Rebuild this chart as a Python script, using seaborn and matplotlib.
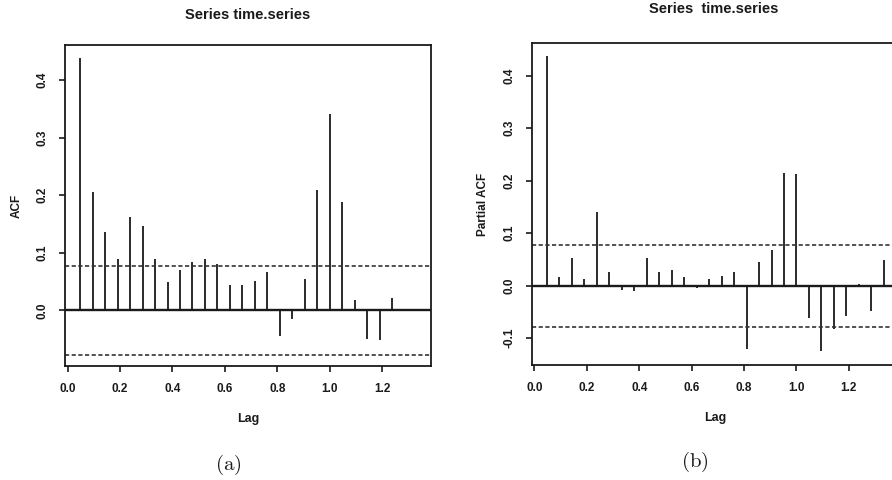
import numpy as np
import pandas as pd
import matplotlib
matplotlib.use("Agg")
import matplotlib.pyplot as plt
import seaborn as sns

# lags are k/21 (frequency 21)
freq = 21
acf_vals = [0.438, 0.205, 0.137, 0.089, 0.163, 0.147, 0.089, 0.050, 0.070, 0.084,
            0.090, 0.080, 0.045, 0.044, 0.052, 0.066, -0.044, -0.014, 0.054, 0.210,
            0.342, 0.189, 0.018, -0.049, -0.052, 0.021]
pacf_vals = [0.437, 0.017, 0.052, 0.012, 0.140, 0.027, -0.008, -0.011, 0.053, 0.027,
             0.030, 0.017, -0.005, 0.013, 0.019, 0.027, -0.121, 0.046, 0.068, 0.214,
             0.213, -0.062, -0.124, -0.083, -0.058, 0.003, -0.048, 0.049]
clim = 0.078
x_ticks = [0.0, 0.2, 0.4, 0.6, 0.8, 1.0, 1.2]
acf_yticks = [0.0, 0.1, 0.2, 0.3, 0.4]
pacf_yticks = [-0.1, 0.0, 0.1, 0.2, 0.3, 0.4]

df_acf = pd.DataFrame({"lag": np.arange(1, len(acf_vals) + 1) / freq, "valor": acf_vals})
df_pacf = pd.DataFrame({"lag": np.arange(1, len(pacf_vals) + 1) / freq, "valor": pacf_vals})

sns.set_theme(style="ticks")
plt.rcParams["font.family"] = ["Liberation Sans", "DejaVu Sans"]
plt.rcParams["mathtext.fontset"] = "cm"

fig = plt.figure(figsize=(8.92, 4.8), dpi=100)
ax1 = fig.add_axes([0.0729, 0.2375, 0.4103, 0.6688])
ax2 = fig.add_axes([0.5961, 0.2396, 0.4105, 0.6702])

escuro = "#1a1a1a"


def desenha(ax, df, ylim, yticks, ylabel):
    ax.vlines(df["lag"], 0, df["valor"], color=escuro, linewidth=1.3)
    ax.axhline(0, color=escuro, linewidth=1.7)
    for c in (clim, -clim):
        ax.axhline(c, color="#333333", linewidth=1.2, linestyle=(0, (2.5, 1.5)))
    ax.set_xlim(-0.0103, 1.387)
    ax.set_ylim(*ylim)
    ax.set_xticks(x_ticks)
    ax.set_xticklabels([f"{t:.1f}" for t in x_ticks], fontweight="bold")
    ax.set_yticks(yticks)
    ax.set_yticklabels([f"{t:.1f}" for t in yticks], rotation=90, va="center",
                       fontweight="bold")
    ax.tick_params(direction="out", length=4.5, width=1.2, color=escuro,
                   labelsize=8.5, labelcolor=escuro, pad=7.5)
    for s in ax.spines.values():
        s.set_color(escuro)
        s.set_linewidth(1.3)
    ax.set_xlabel("Lag", fontsize=9, fontweight="bold", color=escuro, labelpad=13)
    ax.set_ylabel(ylabel, fontsize=8.5, fontweight="bold", color=escuro, labelpad=10)
    ax.grid(False)


desenha(ax1, df_acf, (-0.0964, 0.461), acf_yticks, "ACF")
desenha(ax2, df_pacf, (-0.151, 0.4617), pacf_yticks, "Partial ACF")
ax2.spines["right"].set_visible(False)

fig.text(0.278, 0.969, "Series time.series", ha="center", va="center",
         fontsize=10.5, fontweight="bold", color=escuro)
fig.text(0.800, 0.982, "Series  time.series", ha="center", va="center",
         fontsize=10.5, fontweight="bold", color=escuro)
fig.text(0.2556, 0.031, r"$\mathrm{(a)}$", ha="center", va="center", fontsize=15, color=escuro)
fig.text(0.7795, 0.037, r"$\mathrm{(b)}$", ha="center", va="center", fontsize=15, color=escuro)

fig.savefig("out.png", dpi=100, facecolor="white")
